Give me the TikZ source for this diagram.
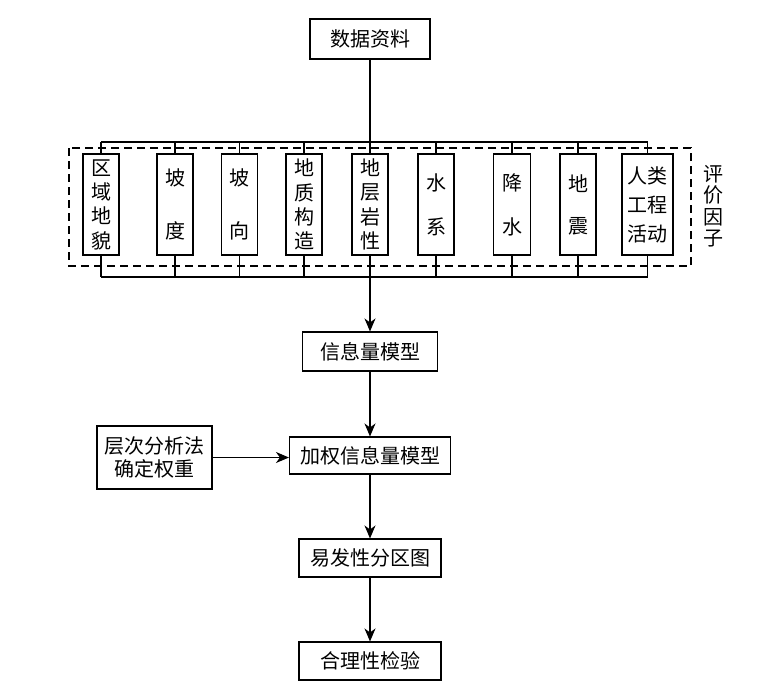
\documentclass[tikz,border=0pt]{standalone}
\usepackage{fontspec}
\newfontfamily\cjk{Noto Sans CJK SC}
\usetikzlibrary{arrows.meta,positioning}

\tikzset{
  box/.style={draw, line width=1.1pt, inner sep=2pt, align=center, font=\cjk\fontsize{20}{23}\selectfont},
  factor/.style={box, minimum height=101pt},
  link/.style={line width=1.1pt},
  flow/.style={link, -{Stealth[length=13pt,width=11pt,inset=4pt]}}
}

\begin{document}
\begin{tikzpicture}[x=1pt,y=-1pt]
  \useasboundingbox (0,0) rectangle (757,697);
  \def\busT{142}
  \def\busB{277}

  \node[box, minimum width=120pt, minimum height=40pt] (data) at (370,39) {数据资料};

  % factor boxes: x / width / line skip / text
  \foreach \x/\w/\lsk/\txt [count=\i] in {101/36/24.3/{区\\域\\地\\貌}, 175/36/53/{坡\\度},
      239.5/36/53/{坡\\向}, 304/36/24.3/{地\\质\\构\\造}, 370/36/24.3/{地\\层\\岩\\性},
      436/36/44/{水\\系}, 512/37/44/{降\\水}, 578/36/42/{地\\震},
      647.5/51/29/{人类\\工程\\活动}} {
    \node[factor, minimum width=\w pt, font=\cjk\fontsize{20}{\lsk}\selectfont] (f\i) at (\x,204.5) {\txt};
  }
  \coordinate (topbus) at (370,\busT);
  \coordinate (botbus) at (370,\busB);

  \draw[link] (data.south) -- (data.south |- topbus);
  \draw[link] (f1.north |- topbus) -- (f9.north |- topbus);
  \draw[link] (f1.south |- botbus) -- (f9.south |- botbus);
  \foreach \i in {1,...,9} {
    \draw[link] (f\i.north) -- (f\i.north |- topbus);
    \draw[link] (f\i.south) -- (f\i.south |- botbus);
  }
  \draw[link, dash pattern=on 8pt off 5pt] (69,148) rectangle (691,266);
  \node[align=center, font=\cjk\fontsize{20}{21.5}\selectfont] (factorlabel) at (713,206) {评\\价\\因\\子};

  \node[box, minimum width=135pt, minimum height=39pt] (info) at (370,351.5) {信息量模型};
  \node[box, minimum width=161pt, minimum height=37pt] (weighted) at (370,455.5) {加权信息量模型};
  \node[box, minimum width=115pt, minimum height=63pt] (ahp) at (154.5,457.5) {层次分析法\\确定权重};
  \node[box, minimum width=142pt, minimum height=38pt] (zone) at (370,558) {易发性分区图};
  \node[box, minimum width=142pt, minimum height=38pt] (check) at (370,661) {合理性检验};

  \draw[flow] (info.north |- botbus) -- (info.north);
  \draw[flow] (info) -- (weighted);
  \draw[flow] (ahp.east) -- (ahp.east -| weighted.west);
  \draw[flow] (weighted) -- (zone);
  \draw[flow] (zone) -- (check);
\end{tikzpicture}
\end{document}
